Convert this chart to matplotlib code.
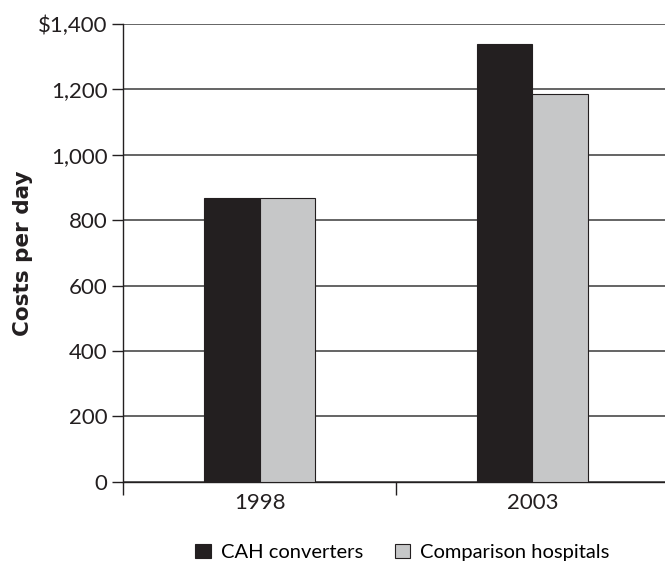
import numpy as np
import matplotlib.pyplot as plt

# data
years = ['1998', '2003']
cah_converters = [867, 1337]
comparison_hospitals = [867, 1186]
y_ticks = [0, 200, 400, 600, 800, 1000, 1200, 1400]
y_labels = ['0', '200', '400', '600', '800', '1,000', '1,200', '$1,400']

plt.rcParams['font.family'] = ['Lato', 'DejaVu Sans']
ink = '#231f20'

fig = plt.figure(figsize=(6.65, 5.65), dpi=100)
ax = fig.add_axes([0.185, 0.147, 0.821, 0.811])

x = np.arange(len(years))
w = 0.205
ax.bar(x - w/2, cah_converters, w, color=ink, edgecolor=ink, linewidth=0.8,
       label='CAH converters', zorder=3)
ax.bar(x + w/2, comparison_hospitals, w, color='#c6c7c8', edgecolor=ink, linewidth=0.8,
       label='Comparison hospitals', zorder=3)

ax.set_xlim(-0.5, 1.5)
ax.set_ylim(0, 1400)
ax.set_yticks(y_ticks)
ax.set_yticklabels(y_labels, fontsize=16, color=ink)
ax.yaxis.grid(True, color='#3a3a3a', linewidth=1.1, zorder=0)
ax.set_axisbelow(True)

ax.set_xticks(x)
ax.set_xticklabels(years, fontsize=16, color=ink)
ax.set_xticks([-0.5, 0.5, 1.5], minor=True)
ax.tick_params(axis='x', which='major', length=0, pad=8)
ax.tick_params(axis='x', which='minor', length=9, width=1, color=ink)
ax.tick_params(axis='y', length=8, width=1, color=ink, pad=3)

for s in ['top', 'right']:
    ax.spines[s].set_visible(False)
for s in ['left', 'bottom']:
    ax.spines[s].set_color(ink)
    ax.spines[s].set_linewidth(1)

ax.set_ylabel('Costs per day', fontsize=15.5, fontweight='bold', color=ink,
              family='DejaVu Sans', labelpad=4)

ax.legend(loc='upper center', bbox_to_anchor=(0.512, -0.095), ncol=2, frameon=False,
          prop={'size': 14.5}, handlelength=0.75, handleheight=0.75,
          columnspacing=1.6, handletextpad=0.5)

fig.savefig('out.png', dpi=100)
